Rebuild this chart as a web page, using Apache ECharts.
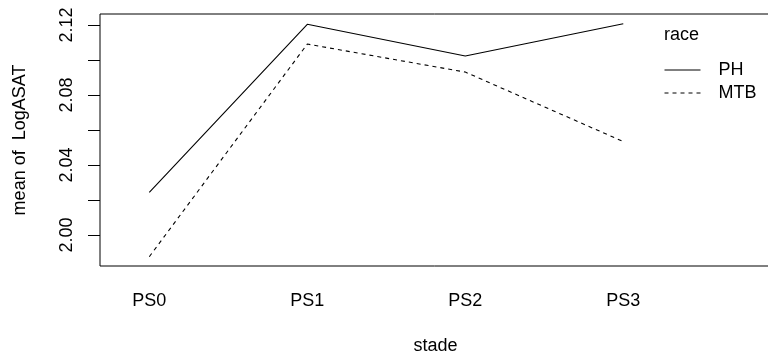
<!DOCTYPE html>
<html>
<head>
<meta charset="utf-8">
<script src="https://cdn.jsdelivr.net/npm/echarts@6/dist/echarts.min.js"></script>
<style>
html,body{margin:0;padding:0;background:#fff;}
#c{width:768px;height:356px;}
</style>
</head>
<body>
<div id="c"></div>
<script>
const categories = ['PS0', 'PS1', 'PS2', 'PS3'];
const seriesNames = ['PH', 'MTB'];
const phValues = [2.0244, 2.1204, 2.1023, 2.1207];
const mtbValues = [1.9876, 2.1091, 2.0931, 2.0534];
const yTickValues = [2.00, 2.02, 2.04, 2.06, 2.08, 2.10, 2.12];
const yLabelValues = [2.00, 2.04, 2.08, 2.12];
const xPositions = [1, 2, 3, 4];

const FONT = 'Liberation Sans, Arial, Helvetica, sans-serif';
const FS = 18;

const chart = echarts.init(document.getElementById('c'), null, {renderer: 'canvas'});
chart.setOption({
  animation: false,
  backgroundColor: '#ffffff',
  textStyle: {fontFamily: FONT, color: '#000'},
  title: {
    text: 'race',
    left: 659, top: 21,
    textStyle: {fontFamily: FONT, fontSize: FS, fontWeight: 'normal', color: '#000'}
  },
  legend: {
    orient: 'vertical',
    left: 659, top: 56,
    padding: 5,
    itemWidth: 36, itemHeight: 18,
    itemGap: 5,
    itemStyle: {opacity: 0},
    lineStyle: {width: 1},
    textStyle: {fontFamily: FONT, fontSize: FS, color: '#000', padding: [0, 0, 0, 13]},
    data: seriesNames
  },
  grid: {
    left: 100, top: 14, width: 671, height: 252,
    show: true, borderColor: '#000', borderWidth: 1,
    containLabel: false, outerBoundsMode: 'none'
  },
  xAxis: {
    type: 'value',
    min: 0.688, max: 4.935,
    axisLine: {show: false},
    axisTick: {show: false},
    splitLine: {show: false},
    axisLabel: {
      customValues: xPositions,
      formatter: v => categories[Math.round(v) - 1] || '',
      fontFamily: FONT, fontSize: FS, color: '#000', margin: 26
    },
    name: 'stade', nameLocation: 'middle', nameGap: 71,
    nameTextStyle: {fontFamily: FONT, fontSize: FS, color: '#000'}
  },
  yAxis: {
    type: 'value',
    min: 1.98229, max: 2.12629,
    axisLine: {show: false},
    splitLine: {show: false},
    axisTick: {show: true, customValues: yTickValues, length: 12, lineStyle: {color: '#000', width: 1}},
    axisLabel: {
      customValues: yLabelValues,
      formatter: v => v.toFixed(2),
      rotate: 90,
      fontFamily: FONT, fontSize: FS, color: '#000', margin: 24
    },
    name: 'mean of  LogASAT', nameLocation: 'middle', nameGap: 71, nameRotate: 90,
    nameTextStyle: {fontFamily: FONT, fontSize: FS, color: '#000'}
  },
  series: [
    {
      name: seriesNames[0], type: 'line', symbol: 'none',
      data: xPositions.map((x, i) => [x, phValues[i]]),
      lineStyle: {color: '#000', width: 1.1, type: 'solid'},
      itemStyle: {color: '#000'}
    },
    {
      name: seriesNames[1], type: 'line', symbol: 'none',
      data: xPositions.map((x, i) => [x, mtbValues[i]]),
      lineStyle: {color: '#000', width: 1.1, type: [4, 4]},
      itemStyle: {color: '#000'}
    }
  ]
});
</script>
</body>
</html>
